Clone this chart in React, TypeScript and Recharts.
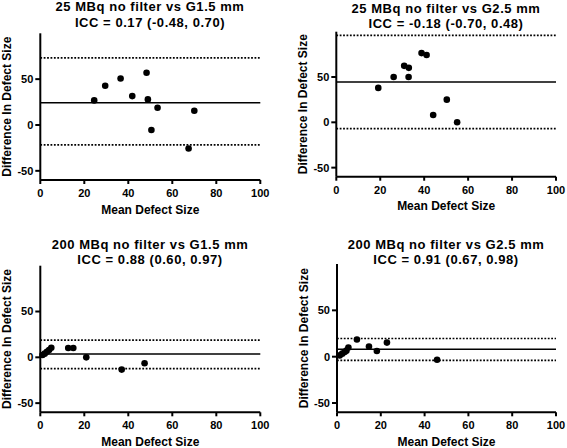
import React from 'react'
import { ScatterChart, Scatter, XAxis, YAxis, ReferenceLine } from 'recharts'

const FONT = '"Liberation Sans", Arial, sans-serif'

const xTicks = [0, 20, 40, 60, 80, 100]
const yTicks = [-50, 0, 50]

const titles = [
  '25 MBq no filter vs G1.5 mm',
  '25 MBq no filter vs G2.5 mm',
  '200 MBq no filter vs G1.5 mm',
  '200 MBq no filter vs G2.5 mm',
]
const iccLabels = [
  'ICC = 0.17 (-0.48, 0.70)',
  'ICC = -0.18 (-0.70, 0.48)',
  'ICC = 0.88 (0.60, 0.97)',
  'ICC = 0.91 (0.67, 0.98)',
]

// mean defect size (x) vs difference in defect size (y)
const low25G15 = [
  { x: 24.5, y: 26.8 },
  { x: 29.5, y: 42.8 },
  { x: 36.5, y: 50.7 },
  { x: 41.8, y: 31.5 },
  { x: 48.3, y: 56.9 },
  { x: 48.9, y: 27.9 },
  { x: 50.5, y: -5.4 },
  { x: 53.3, y: 18.8 },
  { x: 67.4, y: -25.7 },
  { x: 70.0, y: 15.6 },
]
const low25G25 = [
  { x: 19.1, y: 38.0 },
  { x: 26.1, y: 50.0 },
  { x: 30.9, y: 62.3 },
  { x: 32.9, y: 50.0 },
  { x: 33.0, y: 60.1 },
  { x: 38.8, y: 76.4 },
  { x: 41.1, y: 74.3 },
  { x: 44.1, y: 8.0 },
  { x: 50.3, y: 25.0 },
  { x: 55.0, y: 0.0 },
]
const high200G15 = [
  { x: 1.0, y: 2.5 },
  { x: 2.0, y: 4.0 },
  { x: 3.0, y: 6.0 },
  { x: 4.0, y: 8.0 },
  { x: 5.0, y: 10.5 },
  { x: 12.7, y: 10.1 },
  { x: 15.0, y: 10.1 },
  { x: 20.9, y: 0.0 },
  { x: 37.0, y: -13.4 },
  { x: 47.4, y: -6.5 },
]
const high200G25 = [
  { x: 1.2, y: 1.4 },
  { x: 2.4, y: 3.3 },
  { x: 3.5, y: 5.1 },
  { x: 4.3, y: 6.5 },
  { x: 5.2, y: 9.8 },
  { x: 9.1, y: 18.5 },
  { x: 14.6, y: 10.9 },
  { x: 18.2, y: 6.2 },
  { x: 22.8, y: 15.2 },
  { x: 45.7, y: -3.3 },
]
const series = [low25G15, low25G25, high200G15, high200G25]

const biasLines = [24.3, 44.6, 3.6, 8.0]
const upperLimits = [73.2, 96.0, 18.8, 19.6]
const lowerLimits = [-21.7, -6.9, -12.3, -4.0]

// chart box and plot offsets per panel
const layout = [
  { left: 0, top: 0, mTop: 33.3, yw: 40.3, mRight: 22.7, xh: 44, t1: 11.2, t2: 26.8, cx: 150 },
  { left: 283, top: 0, mTop: 31.7, yw: 53.3, mRight: 11, xh: 47.3, t1: 12.6, t2: 27.6, cx: 446 },
  { left: 0, top: 224, mTop: 41.7, yw: 40.3, mRight: 22.7, xh: 35.7, t1: 248.8, t2: 264.2, cx: 150 },
  { left: 283, top: 224, mTop: 40, yw: 54, mRight: 11, xh: 35.7, t1: 249, t2: 264.2, cx: 446 },
]

const tickStyle = { fill: '#000', fontSize: 11, fontWeight: 'bold', fontFamily: FONT }
const axisLine = { stroke: '#000', strokeWidth: 2 }

const Dot = (props: any) => <circle cx={props.cx} cy={props.cy} r={3.3} fill="#000" />

function Panel({ i }: { i: number }) {
  const l = layout[i]
  return (
    <div style={{ position: 'absolute', left: l.left, top: l.top }}>
      <ScatterChart
        width={283 + (l.left ? 1 : 0)}
        height={224}
        margin={{ top: l.mTop, right: l.mRight, bottom: 0, left: 0 }}
      >
        <XAxis
          type="number"
          dataKey="x"
          domain={[0, 100]}
          ticks={xTicks}
          height={l.xh}
          tick={tickStyle}
          tickSize={4}
          tickMargin={5}
          axisLine={axisLine}
          tickLine={axisLine}
          label={{
            content: (p: any) => (
              <text
                x={p.viewBox.x + p.viewBox.width / 2}
                y={p.viewBox.y + 33.5}
                textAnchor="middle"
                fontSize={12}
                fontWeight="bold"
                fontFamily={FONT}
                fill="#000"
              >
                Mean Defect Size
              </text>
            ),
          }}
        />
        <YAxis
          type="number"
          dataKey="y"
          domain={[-60, 100]}
          ticks={yTicks}
          width={l.yw}
          tick={tickStyle}
          tickSize={5}
          tickMargin={2}
          axisLine={axisLine}
          tickLine={axisLine}
          label={{
            content: (p: any) => {
              const x = p.viewBox.x + p.viewBox.width - 29
              const y = p.viewBox.y + p.viewBox.height / 2
              return (
                <text
                  x={x}
                  y={y}
                  transform={`rotate(-90, ${x}, ${y})`}
                  textAnchor="middle"
                  fontSize={12}
                  fontWeight="bold"
                  fontFamily={FONT}
                  fill="#000"
                >
                  Difference In Defect Size
                </text>
              )
            },
          }}
        />
        <ReferenceLine y={upperLimits[i]} stroke="#000" strokeWidth={1.6} strokeDasharray="1.8 1.6" />
        <ReferenceLine y={biasLines[i]} stroke="#000" strokeWidth={1.5} />
        <ReferenceLine y={lowerLimits[i]} stroke="#000" strokeWidth={1.6} strokeDasharray="1.8 1.6" />
        <Scatter data={series[i]} shape={Dot} isAnimationActive={false} />
      </ScatterChart>
    </div>
  )
}

export default function App() {
  return (
    <div style={{ position: 'absolute', left: 0, top: 0, width: 567, height: 448, background: '#fff' }}>
      {layout.map((_, i) => (
        <Panel key={i} i={i} />
      ))}
      <svg width={567} height={448} style={{ position: 'absolute', left: 0, top: 0, pointerEvents: 'none' }}>
        {layout.map((l, i) => (
          <g
            key={i}
            fontFamily={FONT}
            fontSize={13}
            fontWeight="bold"
            fill="#000"
            textAnchor="middle"
            style={{ letterSpacing: '0.55px' }}
          >
            <text x={l.cx} y={l.t1}>{titles[i]}</text>
            <text x={l.cx} y={l.t2}>{iccLabels[i]}</text>
          </g>
        ))}
      </svg>
    </div>
  )
}
